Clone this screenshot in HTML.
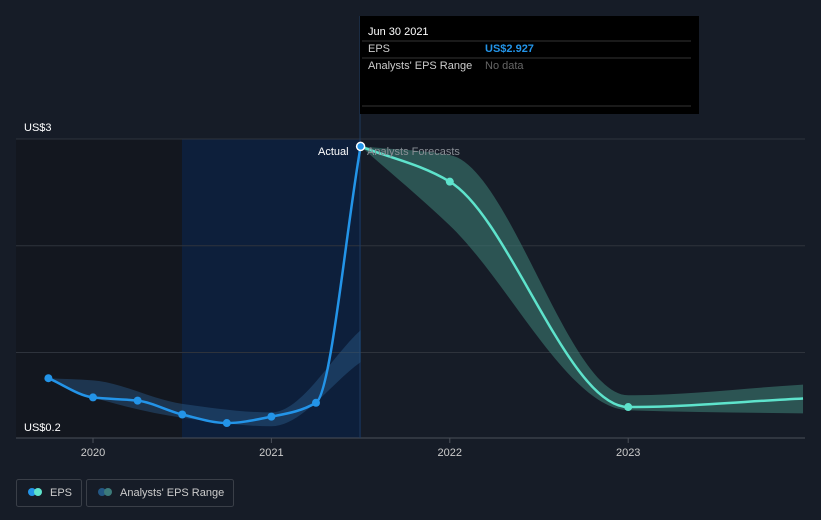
<!DOCTYPE html>
<html><head><meta charset="utf-8"><style>
body{margin:0;background:#161c27;font-family:"Liberation Sans",sans-serif}
svg{display:block}
</style></head><body>
<svg width="821" height="520" id="c">
<rect width="821" height="520" fill="#161c27"/>
<rect x="16" y="139" width="166" height="299" fill="#13171f"/>
<rect x="182" y="139" width="179" height="299" fill="#0d1f3b"/>
<g id="grid"></g>
<g id="marks"></g>
<g>
<rect x="360" y="16" width="339" height="98" fill="#000"/>
<text x="368" y="35" fill="#fff" font-size="11">Jun 30 2021</text>
<line x1="362" y1="41" x2="691" y2="41" stroke="#333"/>
<text x="368" y="52" fill="#ccc" font-size="11">EPS</text>
<text x="485" y="52" fill="#2394e8" font-size="11" font-weight="bold">US$2.927</text>
<line x1="362" y1="58" x2="691" y2="58" stroke="#333"/>
<text x="368" y="69" fill="#ccc" font-size="11">Analysts' EPS Range</text>
<text x="485" y="69" fill="#666" font-size="11">No data</text>
<line x1="362" y1="106" x2="691" y2="106" stroke="#333"/>
</g>
<text x="318" y="155" fill="#fff" font-size="11">Actual</text>
<text x="367" y="155" fill="#8a8f96" font-size="11">Analysts Forecasts</text>
<text x="24" y="131" fill="#fff" font-size="11">US$3</text>
<text x="24" y="431" fill="#fff" font-size="11">US$0.2</text>
<g>
<rect x="16.5" y="479.5" width="65" height="27" rx="2" fill="none" stroke="#3a3f48"/>
<circle cx="32" cy="492" r="4" fill="#2394e8"/><circle cx="38" cy="492" r="4" fill="#5ee3cc"/>
<text x="50" y="496" fill="#ccc" font-size="11">EPS</text></g>
<g>
<rect x="86.5" y="479.5" width="147" height="27" rx="2" fill="none" stroke="#3a3f48"/>
<circle cx="102" cy="492" r="4" fill="#235783"/><circle cx="108" cy="492" r="4" fill="#3c7a7a"/>
<text x="120" y="496" fill="#ccc" font-size="11">Analysts' EPS Range</text></g>
</svg>
<script>
const pastDates=[2019.75,2020,2020.25,2020.5,2020.75,2021,2021.25,2021.5];
const pastEps=[0.76,0.58,0.55,0.42,0.34,0.40,0.53,2.93];
const pastRangeDates=[2019.75,2020,2020.5,2021,2021.5];
const pastRangeHigh=[0.76,0.74,0.52,0.44,1.21];
const pastRangeLow=[0.76,0.58,0.39,0.31,0.91];
const fcDates=[2021.5,2022,2023,2023.98];
const fcEps=[2.93,2.60,0.49,0.57];
const fcHigh=[2.93,2.85,0.60,0.70];
const fcLow=[2.93,2.19,0.46,0.43];
const yTicks=[0.2,1,2,3];
const xTicks=[2020,2021,2022,2023];
const NS="http://www.w3.org/2000/svg";
const X=d=>93+(d-2020)*178.4;
const Y=v=>438-(v-0.2)*106.8;
function tangents(p){const n=p.length,d=[],t=[];
for(let i=0;i<n-1;i++)d.push((p[i+1][1]-p[i][1])/(p[i+1][0]-p[i][0]));
for(let i=0;i<n;i++){if(i===0)t.push(d[0]);else if(i===n-1)t.push(d[n-2]);
else t.push(d[i-1]*d[i]<=0?0:(2/(1/d[i-1]+1/d[i])));}
return t;}
function segs(p){const t=tangents(p);let s="";
for(let i=1;i<p.length;i++){const a=p[i-1],b=p[i],h=(b[0]-a[0])/3;
s+=` C${a[0]+h},${a[1]+t[i-1]*h} ${b[0]-h},${b[1]-t[i]*h} ${b[0]},${b[1]}`;}return s;}
function pts(xs,ys){return xs.map((d,i)=>[X(d),Y(ys[i])]);}
function path(xs,ys){const p=pts(xs,ys);return "M"+p[0]+segs(p);}
function bandPath(xs,hi,lo){const a=pts(xs,hi),b=pts(xs,lo).reverse();return "M"+a[0]+segs(a)+" L"+b[0]+segs(b)+"Z";}
function mk(tag,attrs,parent){const e=document.createElementNS(NS,tag);for(const k in attrs)e.setAttribute(k,attrs[k]);parent.appendChild(e);return e;}
const g=document.getElementById('grid'),m=document.getElementById('marks');
yTicks.forEach(v=>{const l=mk('line',{x1:16,x2:805,y1:Y(v),y2:Y(v),stroke:v===0.2?'#4a4f58':'#2e333c'},g);

});
xTicks.forEach(d=>{const t=mk('line',{x1:X(d),x2:X(d),y1:438,y2:443,stroke:'#4a4f58'},g);


const tx=mk('text',{x:X(d),y:456,fill:'#ccc','font-size':11,'text-anchor':'middle'},g);tx.textContent=d;

});
mk('line',{x1:360,x2:360,y1:16,y2:438,stroke:'#1e3a5e'},g);
const pb=mk('path',{d:bandPath(pastRangeDates,pastRangeHigh,pastRangeLow),fill:'#2a5a8a',opacity:0.45},m);


const fb=mk('path',{d:bandPath(fcDates,fcHigh,fcLow),fill:'#3c7a72',opacity:0.6},m);


const pl=mk('path',{d:path(pastDates,pastEps),fill:'none',stroke:'#2394e8','stroke-width':2.5},m);


const fl=mk('path',{d:path(fcDates,fcEps),fill:'none',stroke:'#5ee3cc','stroke-width':2.5},m);


pastDates.forEach((d,i)=>{const last=i===pastDates.length-1;const c=mk('circle',{cx:X(d),cy:Y(pastEps[i]),r:4,fill:'#2394e8',stroke:last?'#fff':'none','stroke-width':1.5},m);

});
fcDates.slice(1,3).forEach((d,i)=>{const c=mk('circle',{cx:X(d),cy:Y(fcEps[i+1]),r:4,fill:'#5ee3cc'},m);

});
</script>
</body></html>
